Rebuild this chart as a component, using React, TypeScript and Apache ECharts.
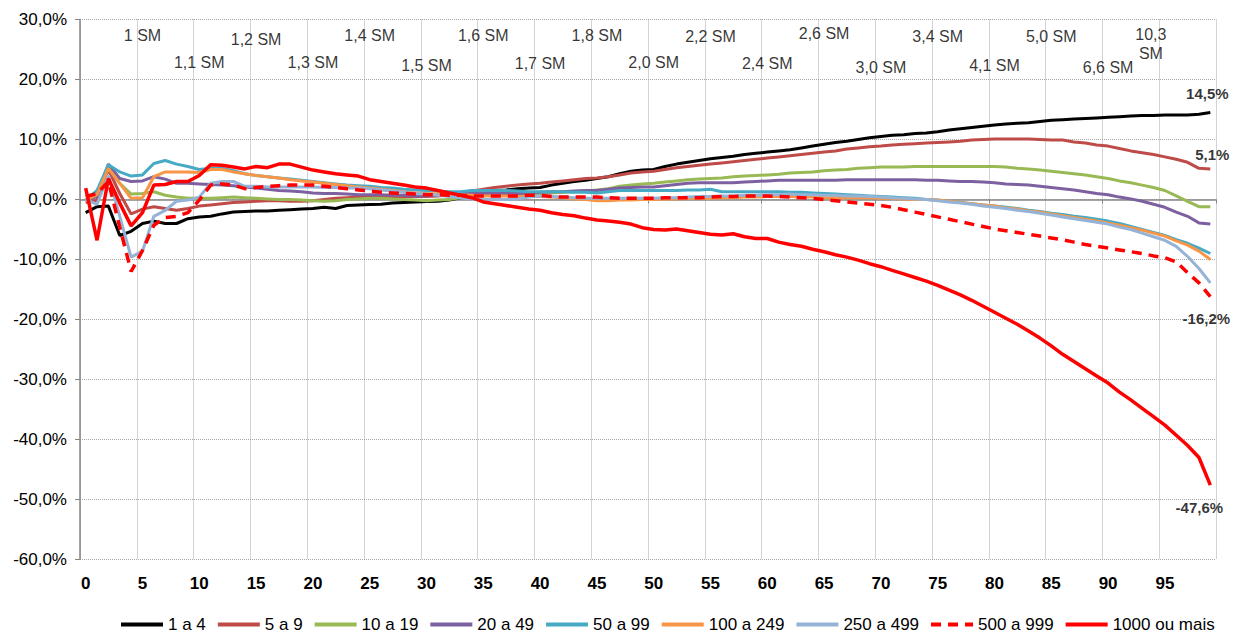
import React, { useEffect, useRef } from "react";
import * as echarts from "echarts";

const categories: string[] = Array.from({ length: 100 }, (_, i) => String(i));

const seriesNames = [
  "1 a 4",
  "5 a 9",
  "10 a 19",
  "20 a 49",
  "50 a 99",
  "100 a 249",
  "250 a 499",
  "500 a 999",
  "1000 ou mais",
];

const s1a4 = [
  -2.2, -1.2, -1.1, -6.0, -5.3, -4.0, -3.6, -4.0, -4.0, -3.2,
  -2.9, -2.8, -2.4, -2.1, -2.0, -1.9, -1.9, -1.8, -1.7, -1.6,
  -1.5, -1.3, -1.5, -1.0, -0.9, -0.85, -0.8, -0.6, -0.5, -0.4,
  -0.35, -0.3, -0.1, 0.3, 0.8, 1.2, 1.5, 1.6, 1.8, 1.9,
  2.0, 2.4, 2.7, 3.0, 3.2, 3.5, 3.8, 4.3, 4.7, 4.9,
  5.0, 5.5, 5.9, 6.2, 6.5, 6.8, 7.0, 7.2, 7.5, 7.7,
  7.9, 8.1, 8.3, 8.6, 8.9, 9.2, 9.5, 9.7, 10.0, 10.3,
  10.5, 10.7, 10.8, 11.0, 11.1, 11.3, 11.6, 11.8, 12.0, 12.2,
  12.4, 12.6, 12.7, 12.8, 13.0, 13.2, 13.3, 13.4, 13.5, 13.6,
  13.7, 13.8, 13.9, 14.0, 14.0, 14.1, 14.1, 14.1, 14.2, 14.5,
];

const s5a9 = [
  -0.5, -0.1, 5.0, 1.0, -2.4, -1.6, -1.2, -1.5, -1.8, -1.5,
  -1.1, -0.9, -0.7, -0.5, -0.4, -0.3, -0.2, -0.2, -0.3, -0.3,
  -0.2, 0.0, 0.2, 0.3, 0.4, 0.5, 0.5, 0.5, 0.5, 0.5,
  0.5, 0.6, 0.8, 1.1, 1.4, 1.7, 2.0, 2.2, 2.4, 2.6,
  2.7, 2.9, 3.1, 3.3, 3.5, 3.6, 3.8, 4.1, 4.4, 4.6,
  4.7, 5.0, 5.3, 5.5, 5.7, 5.9, 6.1, 6.3, 6.5, 6.7,
  6.9, 7.1, 7.3, 7.5, 7.7, 7.9, 8.1, 8.4, 8.6, 8.8,
  8.9, 9.1, 9.2, 9.3, 9.4, 9.5, 9.6, 9.7, 9.9, 10.0,
  10.1, 10.1, 10.1, 10.1, 10.0, 9.9, 9.9, 9.6, 9.4, 9.1,
  8.9, 8.5, 8.1, 7.8, 7.5, 7.1, 6.7, 6.2, 5.2, 5.1,
];

const s10a19 = [
  -0.1, 1.3, 5.2, 2.7, 0.9, 1.0, 1.3, 0.7, 0.4, 0.2,
  0.2, 0.2, 0.3, 0.4, 0.3, 0.2, 0.1, 0.0, 0.0, -0.1,
  -0.2, -0.3, -0.2, 0.0, 0.1, 0.2, 0.2, 0.1, 0.0, -0.1,
  -0.2, -0.1, 0.0, 0.3, 0.6, 0.8, 0.9, 1.0, 1.0, 1.0,
  1.0, 1.1, 1.2, 1.3, 1.4, 1.6, 1.8, 2.2, 2.4, 2.6,
  2.7, 2.9, 3.1, 3.3, 3.4, 3.5, 3.6, 3.8, 3.9, 4.0,
  4.1, 4.2, 4.4, 4.5, 4.6, 4.8, 4.9, 5.0, 5.2, 5.3,
  5.4, 5.4, 5.4, 5.5, 5.5, 5.5, 5.5, 5.5, 5.5, 5.5,
  5.5, 5.4, 5.2, 5.1, 4.9, 4.7, 4.5, 4.3, 4.1, 3.8,
  3.5, 3.1, 2.8, 2.4, 2.0, 1.5, 0.6, -0.3, -1.2, -1.2,
];

const s20a49 = [
  -0.1, 0.5, 5.9, 3.5, 3.0, 3.1, 3.8, 3.4, 2.7, 2.7,
  2.6, 2.5, 2.4, 2.3, 2.1, 1.9, 1.7, 1.5, 1.4, 1.3,
  1.1, 1.0, 1.0, 0.9, 0.8, 0.8, 0.8, 0.7, 0.7, 0.6,
  0.6, 0.8, 1.0, 1.0, 1.0, 1.0, 1.0, 1.0, 1.0, 1.1,
  1.2, 1.3, 1.3, 1.4, 1.5, 1.5, 1.7, 1.9, 2.0, 2.1,
  2.1, 2.3, 2.5, 2.7, 2.8, 2.8, 2.8, 2.8, 2.9, 3.0,
  3.1, 3.2, 3.2, 3.2, 3.2, 3.2, 3.2, 3.3, 3.3, 3.3,
  3.3, 3.3, 3.3, 3.3, 3.2, 3.2, 3.1, 3.0, 3.0, 2.9,
  2.8, 2.6, 2.5, 2.4, 2.2, 2.0, 1.8, 1.6, 1.3, 1.0,
  0.8, 0.4, 0.1, -0.3, -0.8, -1.3, -2.1, -2.8, -3.9, -4.1,
];

const s50a99 = [
  -0.1, 1.5, 5.8, 4.6, 3.9, 4.1, 6.0, 6.5, 5.9, 5.5,
  5.0, 5.2, 5.2, 4.8, 4.3, 4.0, 3.8, 3.6, 3.4, 3.2,
  3.0, 2.8, 2.6, 2.4, 2.3, 2.2, 2.0, 1.9, 1.7, 1.6,
  1.5, 1.4, 1.3, 1.3, 1.5, 1.5, 1.5, 1.5, 1.4, 1.3,
  1.3, 1.3, 1.3, 1.2, 1.2, 1.1, 1.3, 1.5, 1.5, 1.5,
  1.5, 1.5, 1.5, 1.6, 1.6, 1.7, 1.3, 1.3, 1.3, 1.3,
  1.3, 1.3, 1.2, 1.2, 1.1, 1.0, 0.9, 0.8, 0.7, 0.6,
  0.5, 0.4, 0.3, 0.2, 0.0, -0.1, -0.3, -0.5, -0.7, -0.9,
  -1.1, -1.3, -1.5, -1.8, -2.0, -2.3, -2.5, -2.8, -3.0, -3.3,
  -3.6, -4.0, -4.5, -5.0, -5.5, -6.0, -6.7, -7.3, -8.1, -9.0,
];

const s100a249 = [
  -0.1, 0.8, 5.2, 2.7, 0.2, 0.3, 3.8, 4.6, 4.6, 4.6,
  4.5, 5.0, 5.0, 4.6, 4.3, 4.0, 3.8, 3.6, 3.3, 3.1,
  2.9, 2.7, 2.5, 2.3, 2.1, 1.9, 1.7, 1.5, 1.3, 1.1,
  1.0, 0.9, 0.8, 0.75, 0.7, 0.6, 0.6, 0.6, 0.5, 0.5,
  0.5, 0.4, 0.3, 0.1, 0.0, -0.2, -0.2, -0.1, -0.1, 0.0,
  0.0, 0.1, 0.1, 0.2, 0.2, 0.2, 0.3, 0.3, 0.4, 0.4,
  0.5, 0.5, 0.5, 0.4, 0.4, 0.3, 0.3, 0.3, 0.3, 0.3,
  0.2, 0.2, 0.1, 0.0, 0.0, -0.1, -0.3, -0.5, -0.7, -0.9,
  -1.1, -1.4, -1.6, -1.9, -2.1, -2.4, -2.7, -3.0, -3.3, -3.6,
  -3.9, -4.3, -4.7, -5.1, -5.6, -6.1, -6.9, -7.6, -8.6, -10.0,
];

const s250a499 = [
  0.0, -0.8, 4.0, -2.8, -9.6, -8.6, -2.8, -1.8, -0.3, -0.1,
  0.4, 2.7, 3.0, 3.0, 2.2, 2.2, 2.1, 2.1, 2.1, 2.1,
  2.1, 2.0, 2.0, 1.9, 1.9, 1.8, 1.6, 1.4, 1.2, 1.0,
  0.9, 0.7, 0.5, 0.3, 0.1, 0.0, 0.0, 0.0, 0.1, 0.4,
  0.6, 0.5, 0.4, 0.3, 0.2, 0.2, 0.2, 0.2, 0.2, 0.2,
  0.2, 0.3, 0.3, 0.4, 0.5, 0.5, 0.6, 0.6, 0.7, 0.7,
  0.8, 0.8, 0.9, 0.8, 0.8, 0.7, 0.7, 0.6, 0.6, 0.5,
  0.4, 0.3, 0.2, 0.1, 0.0, -0.2, -0.4, -0.6, -0.8, -1.1,
  -1.3, -1.5, -1.8, -2.0, -2.3, -2.6, -2.9, -3.2, -3.5, -3.8,
  -4.1, -4.6, -5.0, -5.6, -6.2, -6.8, -7.8, -9.5, -11.5, -13.9,
];

const s500a999 = [
  0.5, 1.0, 3.0, -4.6, -12.0, -8.5, -4.3, -3.0, -2.8, -2.2,
  -0.1, 2.4, 2.6, 2.4, 1.8, 2.0, 2.2, 2.3, 2.4, 2.4,
  2.4, 2.2, 2.0, 1.8, 1.6, 1.4, 1.2, 1.1, 1.0, 0.9,
  0.8, 0.8, 0.7, 0.7, 0.6, 0.6, 0.6, 0.6, 0.6, 0.7,
  0.7, 0.5, 0.4, 0.4, 0.4, 0.4, 0.3, 0.2, 0.2, 0.2,
  0.2, 0.3, 0.3, 0.3, 0.3, 0.4, 0.5, 0.5, 0.6, 0.6,
  0.6, 0.5, 0.4, 0.3, 0.2, 0.0, -0.2, -0.4, -0.6, -0.8,
  -1.0, -1.3, -1.7, -2.1, -2.5, -2.9, -3.3, -3.7, -4.1, -4.5,
  -4.9, -5.2, -5.5, -5.8, -6.1, -6.4, -6.7, -7.1, -7.5, -7.8,
  -8.1, -8.4, -8.7, -9.0, -9.4, -9.7, -10.4, -12.2, -13.9, -16.2,
];

const s1000 = [
  1.9, -6.8, 3.5, -0.6, -4.4, -2.2, 2.4, 2.5, 3.0, 3.0,
  4.0, 5.8, 5.7, 5.4, 5.1, 5.5, 5.3, 5.9, 5.9, 5.4,
  4.9, 4.6, 4.3, 4.1, 3.9, 3.3, 3.0, 2.7, 2.4, 2.1,
  1.9, 1.5, 1.1, 0.7, 0.3, -0.4, -0.7, -1.0, -1.3, -1.6,
  -1.8, -2.2, -2.5, -2.7, -3.1, -3.4, -3.6, -3.8, -4.1, -4.7,
  -5.0, -5.1, -4.9, -5.2, -5.5, -5.8, -5.9, -5.7, -6.2, -6.5,
  -6.5, -7.1, -7.5, -7.8, -8.3, -8.7, -9.2, -9.6, -10.1, -10.7,
  -11.2, -11.8, -12.4, -13.0, -13.6, -14.3, -15.1, -15.9, -16.8, -17.8,
  -18.8, -19.8, -20.8, -21.9, -23.1, -24.4, -25.8, -27.0, -28.2, -29.4,
  -30.6, -32.1, -33.4, -34.8, -36.2, -37.6, -39.3, -41.0, -43.0, -47.6,
];

const seriesValues = [s1a4, s5a9, s10a19, s20a49, s50a99, s100a249, s250a499, s500a999, s1000];

const seriesColors = ["#000000", "#BE4B48", "#98B954", "#7D60A0", "#46AAC5", "#F79646", "#95B3D7", "#FF0000", "#FF0000"];

const smLabels = [
  "1 SM", "1,1 SM", "1,2 SM", "1,3 SM", "1,4 SM", "1,5 SM", "1,6 SM", "1,7 SM", "1,8 SM", "2,0 SM",
  "2,2 SM", "2,4 SM", "2,6 SM", "3,0 SM", "3,4 SM", "4,1 SM", "5,0 SM", "6,6 SM", "10,3 SM",
];
const smCategories = [5, 10, 15, 20, 25, 30, 35, 40, 45, 50, 55, 60, 65, 70, 75, 80, 85, 90, 95];
const smLevels = [27.3, 22.9, 26.6, 22.9, 27.4, 22.3, 27.4, 22.6, 27.4, 22.8, 27.1, 22.6, 27.6, 22.0, 27.1, 22.4, 27.1, 22.0, 25.9];

// series whose last value is labelled at the right end
const endLabelSeries = ["1 a 4", "5 a 9", "500 a 999", "1000 ou mais"];

const yMin = -60;
const yMax = 30;
const yStep = 10;

const FONT = 'Arial, "Liberation Sans", sans-serif';

const fmtPct = (v: number) => v.toFixed(1).replace(".", ",") + "%";

function buildOption() {
  const lastIdx = categories.length - 1;
  const lineSeries = seriesNames.map((name, i) => ({
    name,
    type: "line",
    xAxisIndex: 0,
    yAxisIndex: 0,
    data: seriesValues[i],
    symbol: "none",
    showSymbol: false,
    smooth: false,
    z: 2 + i,
    color: seriesColors[i],
    itemStyle: { color: seriesColors[i] },
    lineStyle: {
      color: seriesColors[i],
      width: i >= 7 ? 3.5 : 3,
      type: name === "500 a 999" ? [10, 7] : "solid",
    },
    emphasis: { disabled: true },
  }));

  const endOffsets: Record<string, number[]> = {
    "1 a 4": [-3, 0],
    "5 a 9": [2, 0],
    "500 a 999": [-4, 0],
    "1000 ou mais": [-11, 0],
  };
  const endData = endLabelSeries.map((name) => {
    const idx = seriesNames.indexOf(name);
    const v = seriesValues[idx][lastIdx];
    const above = v >= 0;
    return {
      value: [lastIdx, v],
      label: {
        show: true,
        position: above ? "top" : "bottom",
        distance: above ? (name === "1 a 4" ? 11 : 6) : 14,
        offset: endOffsets[name],
        formatter: () => fmtPct(v),
      },
    };
  });

  const endSeries = {
    name: "endLabels",
    type: "scatter",
    xAxisIndex: 0,
    yAxisIndex: 0,
    symbolSize: 1,
    itemStyle: { color: "rgba(0,0,0,0)" },
    silent: true,
    z: 20,
    label: { show: true, color: "#000", fontSize: 15, fontWeight: "bold", fontFamily: FONT },
    data: endData,
  };

  const smSeries = {
    name: "smLabels",
    type: "scatter",
    xAxisIndex: 0,
    yAxisIndex: 0,
    symbolSize: 1,
    itemStyle: { color: "rgba(0,0,0,0)" },
    silent: true,
    z: 20,
    data: smLabels.map((t, i) => ({
      value: [smCategories[i], smLevels[i]],
      label: {
        show: true,
        position: "inside",
        offset: t.length > 6 ? [-14, 0] : [0, 0],
        formatter: () => (t.length > 6 ? t.replace(" ", "\n") : t),
        color: "#000",
        fontSize: 16,
        lineHeight: 19,
        fontFamily: FONT,
      },
    })),
  };

  const gridLine = { color: "#A6A6A6", width: 1, type: "dotted" };

  return {
    animation: false,
    backgroundColor: "#ffffff",
    textStyle: { fontFamily: FONT },
    grid: { left: 80, right: 17, top: 19.5, bottom: 74.5, containLabel: false },
    legend: {
      data: seriesNames,
      left: 114,
      top: 611,
      itemWidth: 42,
      itemHeight: 14,
      itemGap: 10,
      selectedMode: false,
      itemStyle: { opacity: 0, borderWidth: 0 },
      lineStyle: { width: 4 },
      textStyle: { fontSize: 17, color: "#000", fontFamily: FONT },
    },
    xAxis: [
      {
        type: "category",
        data: categories,
        boundaryGap: true,
        position: "bottom",
        axisLine: { show: false, onZero: false },
        axisTick: { show: false },
        axisLabel: {
          interval: 4,
          fontSize: 17,
          fontWeight: "bold",
          color: "#000",
          margin: 15,
          fontFamily: FONT,
        },
        splitLine: { show: true, interval: 4, lineStyle: gridLine },
      },
      {
        type: "category",
        data: categories,
        boundaryGap: true,
        position: "bottom",
        axisLine: { show: true, onZero: true, lineStyle: { color: "#868686", width: 1.5 } },
        axisTick: { show: true, interval: 9, length: 4, lineStyle: { color: "#868686" } },
        axisLabel: { show: false },
        splitLine: { show: false },
      },
    ],
    yAxis: {
      type: "value",
      min: yMin,
      max: yMax,
      interval: yStep,
      axisLine: { show: true, lineStyle: { color: "#868686", width: 1.5 } },
      axisTick: { show: true, length: 5, lineStyle: { color: "#868686" } },
      axisLabel: {
        fontSize: 17,
        color: "#000",
        margin: 13,
        fontFamily: FONT,
        formatter: (v: number) => fmtPct(v),
      },
      splitLine: { show: true, lineStyle: gridLine },
    },
    series: [...lineSeries, endSeries, smSeries],
  };
}

export default function App() {
  const ref = useRef<HTMLDivElement>(null);
  useEffect(() => {
    if (!ref.current) return;
    const chart = echarts.init(ref.current, null, { renderer: "svg" });
    chart.setOption(buildOption() as any);
    return () => chart.dispose();
  }, []);
  return (
    <div
      ref={ref}
      style={{ position: "fixed", left: 0, top: 0, width: 1233, height: 634, background: "#fff" }}
    />
  );
}
